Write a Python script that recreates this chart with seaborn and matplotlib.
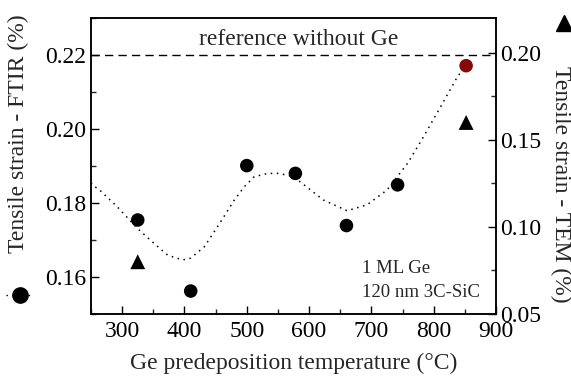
import matplotlib
matplotlib.use("Agg")
import matplotlib.pyplot as plt
from matplotlib.lines import Line2D
from matplotlib.ticker import MultipleLocator
import seaborn as sns
import pandas as pd

# FTIR strain (left axis) versus predeposition temperature
ftir_temp = [325, 410, 500, 578, 660, 742]
ftir_strain = [0.1754, 0.1562, 0.1901, 0.1880, 0.1739, 0.1849]
best_temp = [852]
best_strain = [0.2171]

# TEM strain (right axis)
tem_temp = [325, 852]
tem_strain = [0.080, 0.160]

# Guide-to-the-eye trend curve
curve_temp = [250, 254, 265, 292, 324, 351, 373, 397, 410, 432, 458, 480,
              496, 512, 534, 550, 577, 585, 623, 661, 693, 725, 758, 779,
              784, 811, 838, 846, 852]
curve_strain = [0.1855, 0.1847, 0.1833, 0.1790, 0.1732, 0.1691, 0.1659,
                0.1646, 0.1651, 0.1682, 0.1749, 0.1808, 0.1844, 0.1871,
                0.1880, 0.1880, 0.1871, 0.1858, 0.1808, 0.1779, 0.1795,
                0.1835, 0.1907, 0.1966, 0.1980, 0.2060, 0.2141, 0.2159,
                0.2171]

reference_strain = 0.22

sns.set_style("ticks")
plt.rcParams["font.family"] = ["Liberation Serif", "DejaVu Serif"]
fs = 17

fig = plt.figure(figsize=(5.71, 3.81), dpi=100)
ax = fig.add_axes([0.1594, 0.1759, 0.8687 - 0.1594, 0.9528 - 0.1759])

curve_df = pd.DataFrame({"T": curve_temp, "s": curve_strain})
sns.lineplot(data=curve_df, x="T", y="s", ax=ax, sort=False, color="black",
             linewidth=1.1, linestyle=(0, (1, 3)), zorder=2)

ax.axhline(reference_strain, color="black", linewidth=1.0,
           linestyle=(0, (6, 3.7)), zorder=1)

ftir_df = pd.DataFrame({"T": ftir_temp, "s": ftir_strain})
sns.scatterplot(data=ftir_df, x="T", y="s", ax=ax, marker="o", s=95,
                color="black", edgecolor="none", zorder=3)
best_df = pd.DataFrame({"T": best_temp, "s": best_strain})
sns.scatterplot(data=best_df, x="T", y="s", ax=ax, marker="o", s=95,
                color="#870808", edgecolor="none", zorder=3)

ax.set_xlim(250, 900)
ax.set_ylim(0.15, 0.23)
ax.xaxis.set_major_locator(MultipleLocator(100))
ax.xaxis.set_minor_locator(MultipleLocator(50))
ax.yaxis.set_major_locator(MultipleLocator(0.02))
ax.yaxis.set_minor_locator(MultipleLocator(0.01))
ax.set_xticks([300, 400, 500, 600, 700, 800, 900])
ax.set_yticks([0.16, 0.18, 0.20, 0.22])
ax.set_yticklabels(["0.16", "0.18", "0.20", "0.22"])

ax2 = ax.twinx()
tem_df = pd.DataFrame({"T": tem_temp, "s": tem_strain})
sns.scatterplot(data=tem_df, x="T", y="s", ax=ax2, marker="^", s=115,
                color="black", edgecolor="none", zorder=3)
ax2.set_ylim(0.05, 0.22)
ax2.yaxis.set_major_locator(MultipleLocator(0.05))
ax2.yaxis.set_minor_locator(MultipleLocator(0.025))
ax2.set_yticks([0.05, 0.10, 0.15, 0.20])
ax2.set_yticklabels(["0.05", "0.10", "0.15", "0.20"])
ax2.set_xlim(250, 900)

for a in (ax, ax2):
    for sp in a.spines.values():
        sp.set_visible(True)
        sp.set_linewidth(1.1)
        sp.set_color("black")
ax.tick_params(axis="both", which="major", direction="in", length=6,
               width=1.0, labelsize=fs, colors="black", top=False, right=False)
ax.tick_params(axis="both", which="minor", direction="in", length=3.5,
               width=1.0, top=False, right=False)
ax.tick_params(axis="x", pad=5)
ax2.tick_params(axis="y", which="major", direction="in", length=6, width=1.0,
                labelsize=fs, colors="black", pad=3)
ax2.tick_params(axis="y", which="minor", direction="in", length=3.5, width=1.0)

ax.set_xlabel("Ge predeposition temperature (°C)", fontsize=fs, labelpad=8)
ax.set_ylabel("")
ax2.set_ylabel("")

fig.text(0.032, 0.65, "Tensile strain - FTIR (%)", rotation=90, fontsize=fs,
         ha="center", va="center")
fig.text(0.981, 0.515, "Tensile strain - TEM (%)", rotation=270, fontsize=fs,
         ha="center", va="center")

# axis keys beside the axis titles
fig.add_artist(Line2D([0.011, 0.058], [0.226, 0.226], transform=fig.transFigure,
                      color="black", linewidth=1.0, linestyle=(0, (1, 3))))
fig.add_artist(Line2D([0.035], [0.226], transform=fig.transFigure, marker="o",
                      markersize=11, color="black", linestyle="none"))
fig.add_artist(Line2D([0.987], [0.94], transform=fig.transFigure, marker="^",
                      markersize=11, color="black", linestyle="none"))

ax.text(584, 0.2243, "reference without Ge", fontsize=fs, ha="center",
        va="center")
ax.text(0.67, 0.139, "1 ML Ge", transform=ax.transAxes, fontsize=13.5,
        ha="left", va="baseline")
ax.text(0.67, 0.057, "120 nm 3C-SiC", transform=ax.transAxes, fontsize=13.5,
        ha="left", va="baseline")

fig.savefig("out.png", dpi=100)
